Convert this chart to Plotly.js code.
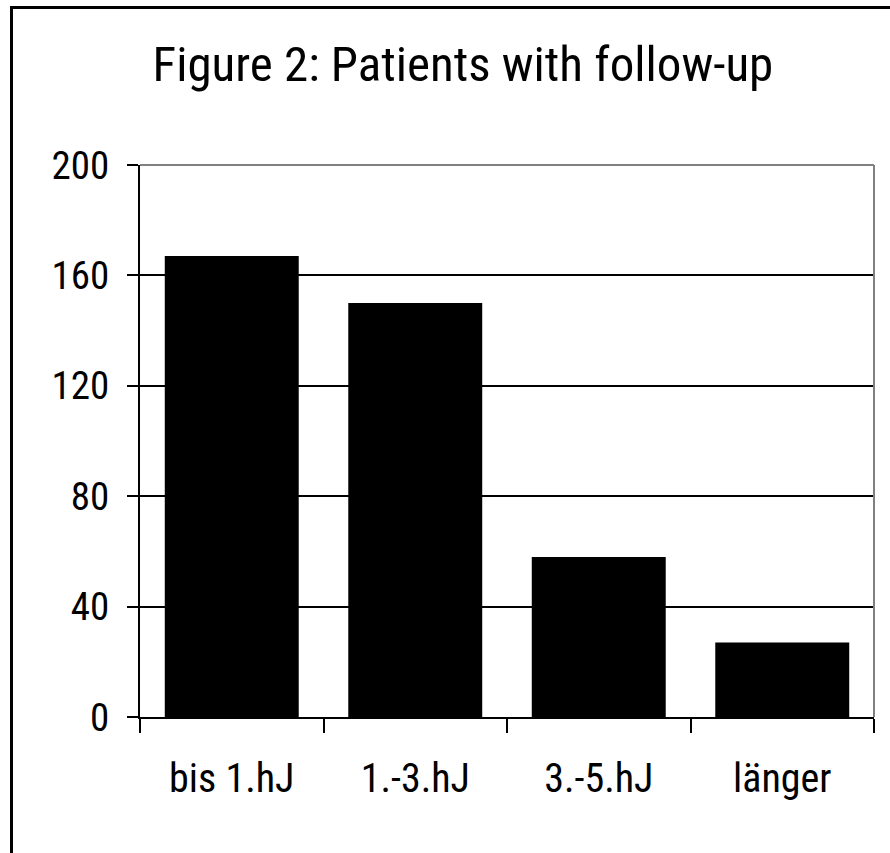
<!DOCTYPE html>
<html>
<head>
<meta charset="utf-8">
<script src="https://cdn.plot.ly/plotly-3.0.1.min.js"></script>
<style>
html,body{margin:0;padding:0;background:#fff;}
#chart{width:890px;height:853px;}
</style>
</head>
<body>
<div id="chart"></div>
<script>
const categories = ["bis 1.hJ", "1.-3.hJ", "3.-5.hJ", "länger"];
const patients = [167, 150, 58, 27];
const yTicks = [0, 40, 80, 120, 160, 200];
const titleText = "Figure 2: Patients with follow-up";

const FONT = "'Liberation Sans Narrow', 'Arial Narrow', 'Roboto Condensed', 'Noto Sans ExtraCondensed', 'Noto Sans Condensed', 'Open Sans Condensed', 'DejaVu Sans Condensed', sans-serif";

const trace = {
  type: "bar",
  x: categories,
  y: patients,
  width: 0.73,
  marker: {color: "#000000", line: {width: 0}},
  hoverinfo: "x+y"
};

const layout = {
  width: 890,
  height: 853,
  margin: {l: 140, r: 16, t: 165, b: 136},
  paper_bgcolor: "#ffffff",
  plot_bgcolor: "#ffffff",
  showlegend: false,
  font: {family: FONT, color: "#000000", size: 40},
  title: {
    text: titleText,
    font: {family: FONT, size: 49, color: "#000000"},
    x: 0.44, xref: "paper", xanchor: "center",
    y: 0.925, yref: "container", yanchor: "middle"
  },
  xaxis: {
    type: "category",
    showline: true, linecolor: "#000000", linewidth: 2,
    ticks: "outside", tickson: "boundaries", ticklen: 14, tickwidth: 2, tickcolor: "#000000",
    showgrid: false,
    tickfont: {family: FONT, size: 40, color: "#000000"},
    ticklabelstandoff: 25
  },
  yaxis: {
    range: [0, 200],
    tickmode: "array", tickvals: yTicks, ticktext: yTicks.map(String),
    showline: true, linecolor: "#000000", linewidth: 2,
    ticks: "outside", ticklen: 11, tickwidth: 2, tickcolor: "#000000",
    showgrid: true, gridcolor: "#000000", gridwidth: 2,
    zeroline: false,
    tickfont: {family: FONT, size: 39, color: "#000000"},
    ticklabelstandoff: 10
  },
  shapes: [
    {type: "line", xref: "paper", yref: "paper", x0: 0, x1: 1, y0: 1, y1: 1,
     line: {color: "#808080", width: 2}, layer: "above"},
    {type: "line", xref: "paper", yref: "paper", x0: 1, x1: 1, y0: 0, y1: 1,
     line: {color: "#808080", width: 2}, layer: "above"},
    {type: "rect", xref: "paper", yref: "paper",
     x0: (11.5 - 140) / 734, x1: (905 - 140) / 734,
     y0: (717 - 870) / 552, y1: (717 - 7.5) / 552,
     line: {color: "#000000", width: 3}, fillcolor: "rgba(0,0,0,0)", layer: "above"}
  ]
};

Plotly.newPlot("chart", [trace], layout, {displayModeBar: false, staticPlot: true});
</script>
</body>
</html>
